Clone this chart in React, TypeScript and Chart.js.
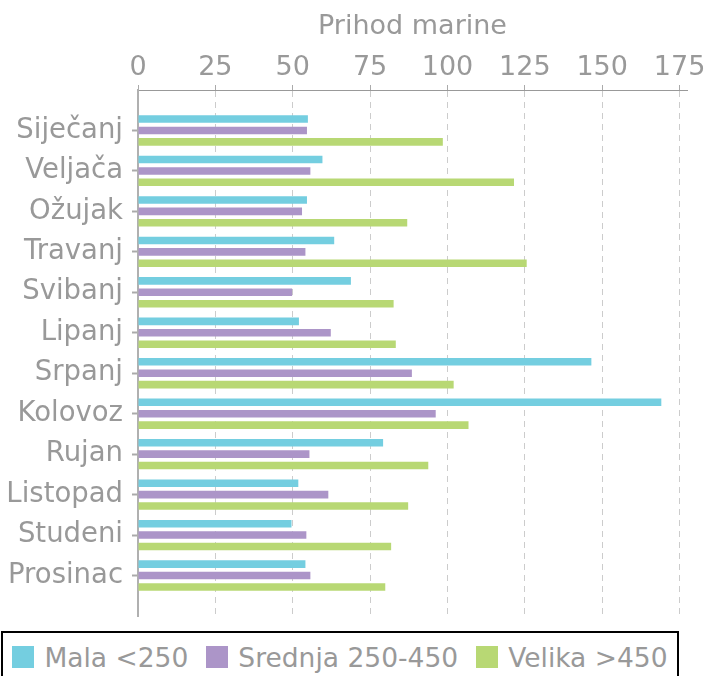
import React, { useEffect, useRef } from "react";
import { Chart, registerables } from "chart.js";

Chart.register(...registerables);

const months = ["Siječanj", "Veljača", "Ožujak", "Travanj", "Svibanj", "Lipanj", "Srpanj", "Kolovoz", "Rujan", "Listopad", "Studeni", "Prosinac"];
const mala = [54.9, 59.6, 54.6, 63.4, 68.8, 52.0, 146.5, 169.1, 79.2, 51.8, 49.6, 54.1];
const srednja = [54.6, 55.7, 53.0, 54.1, 49.8, 62.3, 88.5, 96.2, 55.4, 61.5, 54.4, 55.7];
const velika = [98.5, 121.5, 87.0, 125.6, 82.6, 83.3, 102.0, 106.8, 93.8, 87.3, 81.8, 79.9];
const seriesNames = ["Mala <250", "Srednja 250-450", "Velika >450"];
const seriesColors = ["#74CEE0", "#AC95C8", "#B8D874"];
const axisTitle = "Prihod marine";
const xMax = 177.4;
const xStep = 25;

const FONT = "'DejaVu Sans', sans-serif";
const GRAY = "#999999";

export default function App() {
  const ref = useRef<HTMLCanvasElement | null>(null);

  useEffect(() => {
    if (!ref.current) return;
    const pad = (arr: number[]) => [null, ...arr, null];
    const labels = ["", ...months, ""];
    const last = labels.length - 1;
    const chart = new Chart(ref.current, {
      type: "bar",
      data: {
        labels,
        datasets: [mala, srednja, velika].map((d, i) => ({
          label: seriesNames[i],
          data: pad(d) as any,
          backgroundColor: seriesColors[i],
          borderWidth: 0,
          categoryPercentage: 0.845,
          barPercentage: 0.665,
        })),
      },
      options: {
        indexAxis: "y",
        animation: false,
        responsive: false,
        devicePixelRatio: 1,
        layout: { padding: { left: 0, right: 21, top: 0, bottom: 15 } },
        plugins: { legend: { display: false }, tooltip: { enabled: false } },
        scales: {
          x: {
            type: "linear",
            position: "top",
            min: 0,
            max: xMax,
            ticks: {
              stepSize: xStep,
              includeBounds: false,
              color: GRAY,
              font: { family: FONT, size: 27 },
              padding: 1,
              maxRotation: 0,
            },
            grid: {
              color: "#cccccc",
              lineWidth: 1,
              drawTicks: true,
              tickLength: 5,
              tickColor: "#aaaaaa",
              tickBorderDash: [],
            },
            border: { display: true, color: GRAY, width: 1, dash: [6, 5] },
            title: {
              display: true,
              text: axisTitle,
              color: GRAY,
              font: { family: FONT, size: 27 },
              padding: { top: 11, bottom: 0 },
            },
            afterFit: (s: any) => {
              s.height = 90;
            },
          },
          y: {
            type: "category",
            offset: false,
            ticks: {
              color: GRAY,
              font: { family: FONT, size: 27.5 },
              padding: 9,
              autoSkip: false,
            },
            grid: {
              offset: false,
              drawOnChartArea: false,
              drawTicks: true,
              tickLength: 6,
              tickWidth: 2,
              tickColor: (ctx: any) => (ctx.index === 0 || ctx.index === last ? "rgba(0,0,0,0)" : "#aaaaaa"),
            },
            border: { display: true, color: "#b0b0b0", width: 2 },
            afterFit: (s: any) => {
              s.width = 138;
              s.paddingTop = 0;
              s.paddingBottom = 0;
            },
          },
        },
      },
    });
    return () => chart.destroy();
  }, []);

  return (
    <div style={{ position: "absolute", left: 0, top: 0, width: 708, height: 676, overflow: "hidden", background: "#fff" }}>
      <canvas ref={ref} width={708} height={631} style={{ position: "absolute", left: 0, top: 0, width: 708, height: 631 }} />
      <div
        style={{
          position: "absolute",
          left: 1,
          top: 631,
          width: 678,
          height: 52,
          boxSizing: "border-box",
          border: "2px solid #000",
          display: "flex",
          alignItems: "center",
          justifyContent: "center",
          fontFamily: FONT,
          fontSize: 26.5,
          color: GRAY,
          whiteSpace: "nowrap",
        }}
      >
        {seriesNames.map((name, i) => (
          <span key={name} style={{ display: "flex", alignItems: "center", marginRight: i < seriesNames.length - 1 ? 18 : 0 }}>
            <span style={{ display: "inline-block", width: 22, height: 22, background: seriesColors[i], marginRight: 10 }} />
            <span>{name}</span>
          </span>
        ))}
      </div>
    </div>
  );
}
